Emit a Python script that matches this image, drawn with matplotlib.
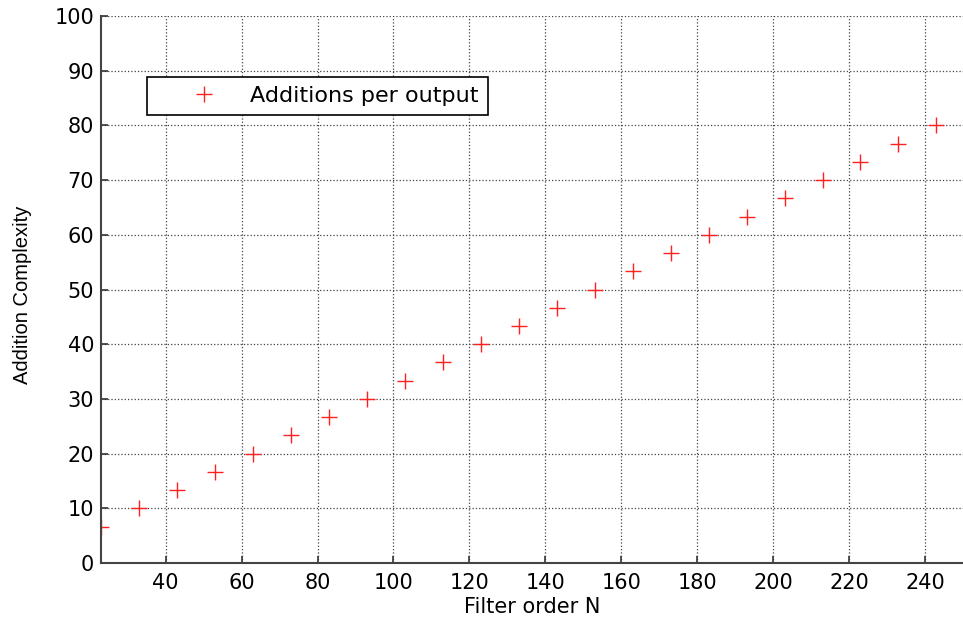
import numpy as np
import matplotlib.pyplot as plt
from matplotlib.legend_handler import HandlerLine2D

order = [23, 33, 43, 53, 63, 73, 83, 93, 103, 113, 123, 133, 143, 153, 163,
         173, 183, 193, 203, 213, 223, 233, 243]
adds = [6.67, 10.0, 13.33, 16.67, 20.0, 23.33, 26.67, 30.0, 33.33, 36.67, 40.0,
        43.33, 46.67, 50.0, 53.33, 56.67, 60.0, 63.33, 66.67, 70.0, 73.33,
        76.67, 80.0]

plt.rcParams['font.family'] = ['DejaVu Sans']

fig = plt.figure(figsize=(9.63, 6.23), dpi=100)
ax = fig.add_axes([0.105, 0.0963, 0.895, 0.8780])

line, = ax.plot(order, adds, '+', color='#ff2020', markersize=12, mew=1.0,
                label='Additions per output')

ax.set_xlim(23, 250)
ax.set_ylim(0, 100)
ax.set_xticks(np.arange(40, 241, 20))
ax.set_yticks(np.arange(0, 101, 10))
ax.grid(True, linestyle=':', color='#444444', linewidth=0.9)
ax.tick_params(direction='in', length=5, labelsize=15, width=1.2, color='#333333')
ax.tick_params(axis='x', pad=7)
ax.tick_params(axis='y', pad=5)
ax.spines['top'].set_visible(False)
ax.spines['right'].set_visible(False)
for s in ['left', 'bottom']:
    ax.spines[s].set_linewidth(1.5)
    ax.spines[s].set_color('#444444')

ax.set_xlabel('Filter order N', fontsize=15, labelpad=3)
ax.set_ylabel('Addition Complexity', fontsize=14.5, family='Liberation Sans')
ax.yaxis.set_label_coords(-0.080, 0.49)

leg = ax.legend(loc='upper left', bbox_to_anchor=(0.053, 0.888), fontsize=16,
                fancybox=False, edgecolor='black', framealpha=1,
                borderaxespad=0, borderpad=0.4, handletextpad=0.36,
                handlelength=3.9,
                handler_map={line: HandlerLine2D(xpad=0.42)})
leg.get_frame().set_linewidth(1.2)

fig.savefig('out.png', dpi=100)
